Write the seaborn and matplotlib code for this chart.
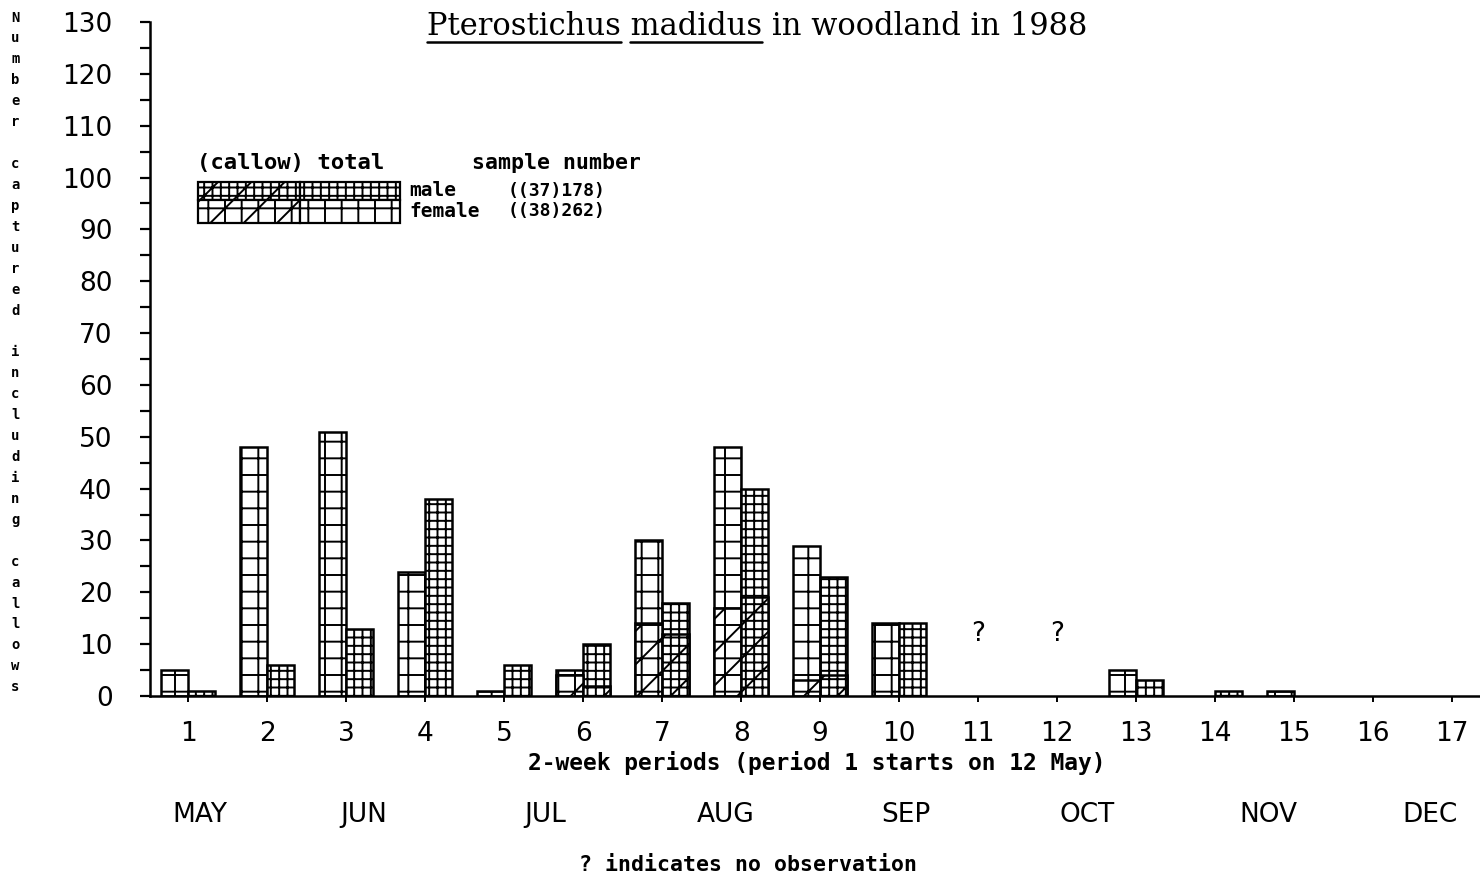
import numpy as np
import pandas as pd
import matplotlib
matplotlib.use("Agg")
import matplotlib.pyplot as plt
import matplotlib.transforms as mtransforms
from matplotlib.patches import Rectangle
from matplotlib.ticker import MultipleLocator
import seaborn as sns

# ---- data ----
periods = list(range(1, 18))
female_total = [5, 48, 51, 24, 1, 5, 30, 48, 29, 14, np.nan, np.nan, 5, 0, 1, 0, 0]
male_total = [1, 6, 13, 38, 6, 10, 18, 40, 23, 14, np.nan, np.nan, 3, 1, 0, 0, 0]
female_callow = [0, 0, 0, 0, 0, 4, 14, 17, 3, 0, np.nan, np.nan, 0, 0, 0, 0, 0]
male_callow = [0, 0, 0, 0, 0, 2, 12, 19, 4, 0, np.nan, np.nan, 0, 0, 0, 0, 0]
months = ["MAY", "JUN", "JUL", "AUG", "SEP", "OCT", "NOV", "DEC"]
legend_rows = [("male", "((37)178)"), ("female", "((38)262)")]

# long table for seaborn
rows = []
for i, p in enumerate(periods):
    rows.append({"period": p, "sex": "female", "total": female_total[i], "callow": female_callow[i]})
    rows.append({"period": p, "sex": "male", "total": male_total[i], "callow": male_callow[i]})
df = pd.DataFrame(rows)
no_obs = df.loc[df["total"].isna(), "period"].unique()

# ---- figure ----
sns.set_theme(style="ticks")
plt.rcParams["hatch.linewidth"] = 1.4
plt.rcParams["hatch.color"] = "black"
plt.rcParams["text.color"] = "black"
plt.rcParams["xtick.color"] = "black"
plt.rcParams["ytick.color"] = "black"

fig = plt.figure(figsize=(14.8, 8.77), dpi=100)
ax = fig.add_axes([0.1014, 0.2064, 0.8986, 0.7685])

pal = {"female": "white", "male": "white"}
hatch_tot = {"female": "+", "male": "++"}
hatch_cal = {"female": "+/", "male": "++/"}

tot = df[df["total"] > 0]
cal = df[df["callow"] > 0]

sns.barplot(data=tot, x="period", y="total", hue="sex", order=periods,
            hue_order=["female", "male"], palette=pal, width=0.68, gap=0,
            edgecolor="black", linewidth=1.8, errorbar=None, legend=False, ax=ax)
n_tot = len(ax.containers)
sns.barplot(data=cal, x="period", y="callow", hue="sex", order=periods,
            hue_order=["female", "male"], palette=pal, width=0.68, gap=0,
            edgecolor="black", linewidth=1.8, errorbar=None, legend=False, ax=ax)

for cont, sex in zip(ax.containers[:n_tot], ["female", "male"]):
    for bar in cont:
        bar.set_hatch(hatch_tot[sex])
for cont, sex in zip(ax.containers[n_tot:], ["female", "male"]):
    for bar in cont:
        bar.set_hatch(hatch_cal[sex])

# axes styling
ax.set_xlim(-0.48, 16.35)
ax.set_ylim(0, 130)
ax.yaxis.set_major_locator(MultipleLocator(10))
ax.yaxis.set_minor_locator(MultipleLocator(5))
for s in ["top", "right"]:
    ax.spines[s].set_visible(False)
for s in ["left", "bottom"]:
    ax.spines[s].set_linewidth(1.8)
    ax.spines[s].set_color("black")
ax.tick_params(axis="y", which="both", direction="out", length=7, width=1.6,
               labelsize=19, pad=20, colors="black")
ax.tick_params(axis="x", direction="out", length=4, width=1.4,
               labelsize=19, pad=14, colors="black")
ax.set_xlabel("")
ax.set_ylabel("")

# "?" for periods without observation
for p in no_obs:
    ax.text(periods.index(p), 12, "?", ha="center", va="center", fontsize=19)

trans = mtransforms.blended_transform_factory(ax.transData, ax.transAxes)
ax.text(7.96, -0.1, "2-week periods (period 1 starts on 12 May)", transform=trans,
        ha="center", va="center", fontsize=16.5, family="DejaVu Sans Mono",
        fontweight="bold")
month_x = [0.15, 2.22, 4.52, 6.8, 9.08, 11.38, 13.67, 15.72]
for m, mx in zip(months, month_x):
    ax.text(mx, -0.1766, m, transform=trans, ha="center", va="center", fontsize=19)
ax.text(7.09, -0.2507, "? indicates no observation", transform=trans,
        ha="center", va="center", fontsize=15.5, family="DejaVu Sans Mono",
        fontweight="bold")

# hand-drawn style legend box
leg_font = dict(family="DejaVu Sans Mono", fontweight="bold",
                transform=ax.transAxes, va="center")
ax.text(0.0355, 0.791, "(callow) total", ha="left", fontsize=16, **leg_font)
ax.text(0.242, 0.791, "sample number", ha="left", fontsize=15.5, **leg_font)
x0, xc, x1 = 0.0361, 0.1128, 0.188
row_y = [(0.736, 0.0266), (0.7018, 0.0342)]
for (y, h), sex, (lab, num) in zip(row_y, ["male", "female"], legend_rows):
    ax.add_patch(Rectangle((x0, y), xc - x0, h, transform=ax.transAxes,
                           facecolor="white", edgecolor="black", linewidth=1.6,
                           hatch=hatch_cal[sex]))
    ax.add_patch(Rectangle((xc, y), x1 - xc, h, transform=ax.transAxes,
                           facecolor="white", edgecolor="black", linewidth=1.6,
                           hatch=hatch_tot[sex]))
    ax.text(0.195, y + h / 2, lab, ha="left", fontsize=14, **leg_font)
    ax.text(0.269, y + h / 2, num, ha="left", fontsize=13, **leg_font)

# stacked vertical y label
fig.text(0.0105, 0.988, "\n".join("Number captured including callows"),
         ha="center", va="top", fontsize=10, fontweight="bold",
         family="DejaVu Sans Mono", linespacing=1.63)

# title with underlined species name
title = "Pterostichus madidus in woodland in 1988"
tfont = dict(family="DejaVu Serif", fontsize=22, color="black")
tx, ty = 0.5115, 0.960
t = fig.text(tx, ty, title, ha="center", va="baseline", **tfont)
r = fig.canvas.get_renderer()
full_w = t.get_window_extent(r).width
def width_of(s):
    tmp = fig.text(0, 0, s, **tfont)
    w = tmp.get_window_extent(r).width
    tmp.remove()
    return w
left_px = tx * fig.bbox.width - full_w / 2
w1 = width_of("Pterostichus")
w12 = width_of("Pterostichus madidus")
w2 = width_of("madidus")
uy = ty * fig.bbox.height - 7
for a, b in [(0, w1), (w12 - w2, w12)]:
    fig.add_artist(plt.Line2D([(left_px + a) / fig.bbox.width, (left_px + b) / fig.bbox.width],
                              [uy / fig.bbox.height] * 2, color="black", linewidth=1.8))

fig.savefig("out.png", dpi=100)
